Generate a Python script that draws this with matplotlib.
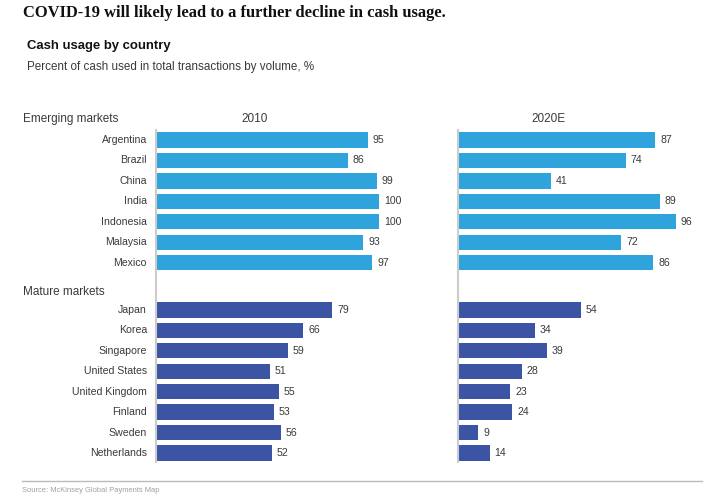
import matplotlib
matplotlib.use('Agg')
import matplotlib.pyplot as plt

W, H = 711, 504

emerging = ["Argentina", "Brazil", "China", "India", "Indonesia", "Malaysia", "Mexico"]
emerging_2010 = [95, 86, 99, 100, 100, 93, 97]
emerging_2020 = [87, 74, 41, 89, 96, 72, 86]

mature = ["Japan", "Korea", "Singapore", "United States", "United Kingdom",
          "Finland", "Sweden", "Netherlands"]
mature_2010 = [79, 66, 59, 51, 55, 53, 56, 52]
mature_2020 = [54, 34, 39, 28, 23, 24, 9, 14]

years = ["2010", "2020E"]

LIGHT = "#2ea3dc"
DARK = "#3b55a4"
TXT = "#3a3a3a"
AXIS = "#cccccc"

plt.rcParams['font.family'] = ['Liberation Sans', 'DejaVu Sans']


def fx(px):
    return px / W


def fy(py):
    return 1 - py / H


fig = plt.figure(figsize=(W / 100, H / 100), dpi=100)

# row positions: emerging rows 0..6, then a gap before mature markets
gap = 2.31
pos_e = list(range(len(emerging)))
pos_m = [len(emerging) - 1 + gap + i for i in range(len(mature))]
ytop, ybot = -0.49, pos_m[-1] + 0.44

top_px, bot_px = 130, 462
panels = [
    (156, 223, emerging_2010, mature_2010, 44.4),
    (458, 227, emerging_2020, mature_2020, 39.8),
]

for k, (left_px, w_px, ev, mv, yr_x) in enumerate(panels):
    ax = fig.add_axes([fx(left_px), fy(bot_px), w_px / W, (bot_px - top_px) / H])
    ax.barh(pos_e, ev, height=0.75, color=LIGHT)
    ax.barh(pos_m, mv, height=0.75, color=DARK)
    ax.set_xlim(0, 100)
    ax.set_ylim(ybot, ytop)
    for s in ["top", "right", "bottom"]:
        ax.spines[s].set_visible(False)
    ax.spines["left"].set_color(AXIS)
    ax.spines["left"].set_linewidth(1.5)
    ax.set_xticks([])
    ax.set_yticks([])
    for p, v in zip(pos_e + pos_m, ev + mv):
        ax.annotate(str(v), (v, p), xytext=(3.5, 0), textcoords="offset points",
                    va="center", ha="left", fontsize=7.6, color=TXT,
                    annotation_clip=False)
    ax.text(yr_x, -0.75, years[k], ha="center", va="bottom", fontsize=8.5,
            color=TXT)
    if k == 0:
        for p, name in zip(pos_e + pos_m, emerging + mature):
            ax.annotate(name, (0, p), xytext=(-6.5, 0), textcoords="offset points",
                        va="center", ha="right", fontsize=7.6, color=TXT,
                        annotation_clip=False)

fig.text(fx(23), fy(13), "COVID-19 will likely lead to a further decline in cash usage.",
         fontsize=11.9, fontweight="bold", family=["Liberation Serif"],
         color="#111111", va="center", ha="left")
fig.text(fx(27), fy(46), "Cash usage by country", fontsize=9.45, fontweight="bold",
         color="#111111", va="center", ha="left")
fig.text(fx(27), fy(67), "Percent of cash used in total transactions by volume, %",
         fontsize=8.4, color=TXT, va="center", ha="left")
fig.text(fx(23), fy(119), "Emerging markets", fontsize=8.5, color=TXT,
         va="center", ha="left")
fig.text(fx(23), fy(292), "Mature markets", fontsize=8.5, color=TXT,
         va="center", ha="left")

fig.add_artist(plt.Line2D([fx(22), fx(702)], [fy(481), fy(481)],
                          color="#bbbbbb", linewidth=1))
fig.text(fx(22), fy(491), "Source: McKinsey Global Payments Map", fontsize=5.4,
         color="#a0a0a0", va="center", ha="left")

fig.savefig("out.png", dpi=100)
